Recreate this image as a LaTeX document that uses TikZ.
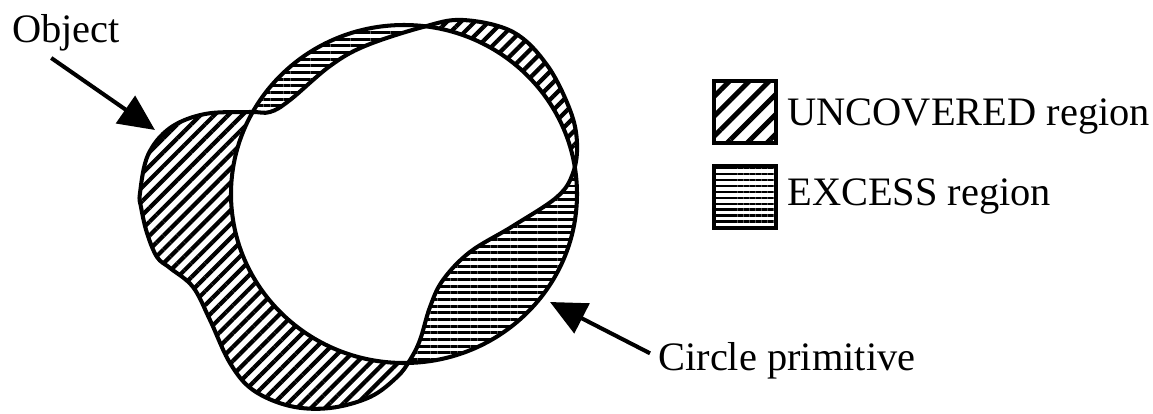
\documentclass[tikz,border=0pt]{standalone}
\usepackage{fontspec}
\setmainfont{Liberation Serif}
\usetikzlibrary{arrows.meta,positioning,patterns.meta}

\tikzset{
  objpath/.style={insert path={plot[smooth cycle, tension=0.6] coordinates {
    (140,193) (148,155) (170,128) (205,114) (250,112) (270,112) (290,100)
    (330,66) (365,46) (423,27) (463,20) (513,32) (547,65) (570,110)
    (577,143) (573,173) (557,197) (513,226) (470,252) (443,280) (430,307)
    (420,340) (410,360) (397,377) (370,397) (330,408) (290,406) (253,390)
    (230,363) (210,320) (193,287) (170,268) (157,257) (147,233) (141,207)}}}
}

\begin{document}
\begin{tikzpicture}[
  x=0.02cm, y=-0.02cm,
  font=\fontsize{23}{27}\selectfont,
  >={Triangle[length=0.72cm,width=0.66cm]},
  outline/.style={line width=2.3pt, line join=round},
  uncovered/.style={pattern={Lines[angle=45,distance=5.6pt,line width=2.4pt]}},
  excess/.style={pattern={Lines[angle=0,distance=3.8pt,line width=1.7pt]}},
  legbox/.style={draw, line width=2.3pt, minimum size=1.25cm, inner sep=0pt},
  lbl/.style={inner sep=0pt, anchor=base west},
  arr/.style={->, line width=2.3pt}
]
\useasboundingbox (0,0) rectangle (1153,413);

\begin{scope}
  \clip[objpath];
  \fill[uncovered, even odd rule] (0,0) rectangle (1153,413) (404,194) ellipse [x radius=173, y radius=169];
\end{scope}
\begin{scope}
  \clip (404,194) ellipse [x radius=173, y radius=169];
  \fill[excess, even odd rule] (0,0) rectangle (1153,413) [objpath];
\end{scope}
\draw[outline] (404,194) ellipse [x radius=173, y radius=169];
\draw[outline, objpath];

\node[legbox, pattern={Lines[angle=45,distance=8pt,line width=2.8pt]}] (unc) at (745,112) {};
\node[legbox, pattern={Lines[angle=0,distance=3.4pt,line width=1.6pt]}] (exc) at (745,197) {};
\node[lbl] (unctxt) at (787,125) {UNCOVERED region};
\node[lbl] (exctxt) at (787,205) {EXCESS region};

\node[lbl] (obj) at (12,42) {Object};
\node[lbl] (prim) at (658,370) {Circle primitive};
\coordinate (objtip) at (155,130);
\coordinate (primtip) at (550,302);
\draw[arr] ([xshift=-0.3cm, yshift=-0.14cm]obj.south) -- (objtip);
\draw[arr] ([xshift=-0.16cm, yshift=0.14cm]prim.west) -- (primtip);
\end{tikzpicture}
\end{document}
